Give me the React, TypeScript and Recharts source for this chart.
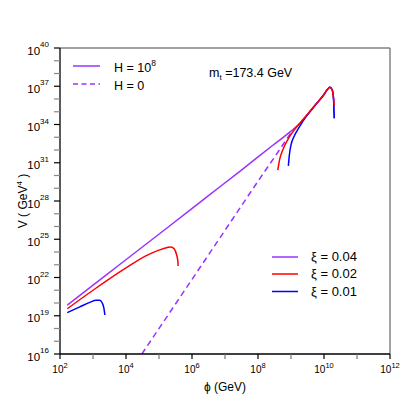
import React from 'react';
import { LineChart, Line, XAxis, YAxis, ReferenceLine } from 'recharts';

// all values are log10: x = log10(phi / GeV), y = log10(V / GeV^4)
const purpleSolidX = [2.22, 3.8, 5.3, 6.5, 7.45, 8.46, 9.0, 9.27, 9.78, 10.0, 10.12, 10.18, 10.25, 10.29, 10.3, 10.31];
const purpleSolidY = [19.84, 23.0, 26.0, 28.42, 30.33, 32.39, 33.48, 34.1, 35.66, 36.35, 36.8, 36.92, 36.7, 36.0, 35.2, 34.5];

const purpleDashX = [4.48, 6.0, 7.0, 8.06, 8.7, 9.05];
const purpleDashY = [16.0, 21.85, 25.7, 29.78, 32.2, 33.55];

const redLowX = [2.22, 3.0, 4.0, 4.6, 5.0, 5.25, 5.36, 5.46, 5.53, 5.57, 5.58];
const redLowY = [19.55, 21.0, 22.75, 23.7, 24.15, 24.35, 24.4, 24.25, 23.8, 23.3, 22.9];
const redHighX = [8.6, 8.66, 8.75, 8.9, 9.05, 9.27, 9.78, 10.0, 10.12, 10.18, 10.25, 10.29, 10.31];
const redHighY = [30.43, 31.3, 32.0, 32.8, 33.4, 34.1, 35.66, 36.35, 36.8, 36.92, 36.7, 36.0, 35.5];

const blueLowX = [2.22, 2.6, 2.9, 3.1, 3.2, 3.28, 3.33, 3.36];
const blueLowY = [19.24, 19.7, 20.05, 20.22, 20.22, 20.0, 19.6, 19.06];
const blueHighX = [8.92, 8.95, 9.0, 9.1, 9.25, 9.45, 9.78, 10.0, 10.12, 10.18, 10.25, 10.29, 10.3, 10.31];
const blueHighY = [30.75, 31.6, 32.4, 33.1, 33.8, 34.6, 35.66, 36.35, 36.8, 36.92, 36.7, 36.0, 35.2, 34.5];

const xTicks = [2, 3, 4, 5, 6, 7, 8, 9, 10, 11, 12];
const yTicks = [16, 17, 18, 19, 20, 21, 22, 23, 24, 25, 26, 27, 28, 29, 30, 31, 32, 33, 34, 35, 36, 37, 38, 39, 40];

const PURPLE = '#9933ff';
const RED = '#ff0000';
const BLUE = '#0000ff';
const FONT = '"Liberation Sans", Arial, sans-serif';

const toPoints = (xs: number[], ys: number[]) => xs.map((x, i) => ({ x, y: ys[i] }));

const XTick = ({ x, y, payload }: any) => {
  const v = payload.value;
  const labelled = v % 2 === 0;
  return (
    <g>
      <line x1={x} x2={x} y1={y} y2={y + 5} stroke={labelled ? '#000' : '#777'} strokeWidth={1.2} />
      {labelled && (
        <text x={x} y={y + 19} textAnchor="middle" fontFamily={FONT} fontSize={10} fill="#000">
          10<tspan fontSize={7.5} dy={-5.5}>{v}</tspan>
        </text>
      )}
    </g>
  );
};

const YTick = ({ x, y, payload }: any) => {
  const v = payload.value;
  const labelled = (v - 16) % 3 === 0;
  return (
    <g>
      <line x1={x - 6} x2={x} y1={y} y2={y} stroke={labelled ? '#000' : '#888'} strokeWidth={1.2} />
      {labelled && (
        <text x={x - 11} y={y + 6.5} textAnchor="end" fontFamily={FONT} fontSize={11.5} fill="#000">
          10<tspan fontSize={8} dy={-7.5}>{v}</tspan>
        </text>
      )}
    </g>
  );
};

export default function App() {
  return (
    <div style={{ position: 'absolute', left: 0, top: 0, width: 415, height: 415, background: '#fff' }}>
      <LineChart width={415} height={415} margin={{ top: 48, right: 25, bottom: 0, left: 0 }}>
        <XAxis
          type="number"
          dataKey="x"
          domain={[2, 12]}
          ticks={xTicks}
          interval={0}
          allowDataOverflow
          height={61}
          tickSize={0}
          tickMargin={0}
          tickLine={false}
          tick={<XTick />}
          axisLine={{ stroke: '#000', strokeWidth: 1.3 }}
        />
        <YAxis
          type="number"
          dataKey="y"
          domain={[16, 40]}
          ticks={yTicks}
          interval={0}
          allowDataOverflow
          width={60}
          tickSize={0}
          tickMargin={0}
          tickLine={false}
          tick={<YTick />}
          axisLine={{ stroke: '#000', strokeWidth: 1.3 }}
        />
        <ReferenceLine y={40} stroke="#444" strokeWidth={1.2} />
        <ReferenceLine x={12} stroke="#666" strokeWidth={1.2} />
        <Line data={toPoints(purpleDashX, purpleDashY)} dataKey="y" type="monotone" stroke={PURPLE} strokeWidth={1.5} strokeDasharray="6 4" dot={false} activeDot={false} isAnimationActive={false} />
        <Line data={toPoints(purpleSolidX, purpleSolidY)} dataKey="y" type="monotone" stroke={PURPLE} strokeWidth={1.5} dot={false} activeDot={false} isAnimationActive={false} />
        <Line data={toPoints(blueLowX, blueLowY)} dataKey="y" type="monotone" stroke={BLUE} strokeWidth={1.5} dot={false} activeDot={false} isAnimationActive={false} />
        <Line data={toPoints(blueHighX, blueHighY)} dataKey="y" type="monotone" stroke={BLUE} strokeWidth={1.5} dot={false} activeDot={false} isAnimationActive={false} />
        <Line data={toPoints(redLowX, redLowY)} dataKey="y" type="monotone" stroke={RED} strokeWidth={1.5} dot={false} activeDot={false} isAnimationActive={false} />
        <Line data={toPoints(redHighX, redHighY)} dataKey="y" type="monotone" stroke={RED} strokeWidth={1.5} dot={false} activeDot={false} isAnimationActive={false} />
      </LineChart>
      <svg width={415} height={415} style={{ position: 'absolute', left: 0, top: 0, pointerEvents: 'none' }} fontFamily={FONT}>
        {/* axis titles */}
        <text x={225} y={391} textAnchor="middle" fontSize={12}>ϕ (GeV)</text>
        <text transform="translate(27,201) rotate(-90)" textAnchor="middle" fontSize={12}>
          V ( GeV<tspan fontSize={8} dy={-5}>4</tspan><tspan dy={5}> )</tspan>
        </text>
        {/* top legend */}
        <line x1={73} x2={100} y1={66} y2={66} stroke={PURPLE} strokeWidth={1.5} />
        <line x1={73} x2={100} y1={84} y2={84} stroke={PURPLE} strokeWidth={1.5} strokeDasharray="5 3.5" />
        <text x={114} y={72} fontSize={12.5}>H = 10<tspan fontSize={8.5} dy={-6}>8</tspan></text>
        <text x={114} y={90} fontSize={12.5}>H = 0</text>
        <text x={209} y={77} fontSize={12.5}>m<tspan fontSize={8} dy={3}>t</tspan><tspan dy={-3}> =173.4 GeV</tspan></text>
        {/* bottom legend */}
        <line x1={272} x2={298} y1={257} y2={257} stroke={PURPLE} strokeWidth={1.5} />
        <line x1={272} x2={298} y1={274} y2={274} stroke={RED} strokeWidth={1.5} />
        <line x1={272} x2={298} y1={291.5} y2={291.5} stroke={BLUE} strokeWidth={1.5} />
        <text x={311} y={261} fontSize={13}>ξ = 0.04</text>
        <text x={311} y={278} fontSize={13}>ξ = 0.02</text>
        <text x={311} y={296} fontSize={13}>ξ = 0.01</text>
      </svg>
    </div>
  );
}
